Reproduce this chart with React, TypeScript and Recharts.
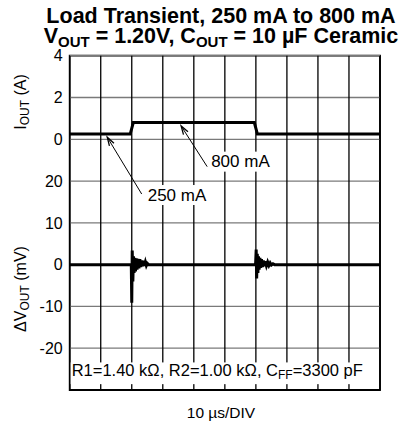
import React from 'react';
import {
  ComposedChart,
  Line,
  XAxis,
  YAxis,
  ReferenceLine,
  ReferenceArea,
} from 'recharts';

// ---- data ----
const timeTicks = [0, 10, 20, 30, 40, 50, 60, 70, 80, 90, 100]; // µs (10 µs/DIV)
const currentTicks = [0, 2, 4]; // A
const voltageTicks = [-20, -10, 0, 10, 20]; // mV
const currentDomain: [number, number] = [-12, 4];
const voltageDomain: [number, number] = [-30, 50];

const currentTime = [0, 19.5, 20.5, 59.5, 60.5, 100];
const currentAmps = [0.25, 0.25, 0.8, 0.8, 0.25, 0.25];

const voltageTime = [
  0, 19.85, 20.0, 20.15, 20.35, 20.55, 20.75, 20.95, 21.2, 21.45, 21.7, 22.0, 22.3, 22.6,
  22.9, 23.2, 23.5, 23.8, 24.1, 24.4, 24.7, 25.0, 25.4,
  59.9, 60.1, 60.25, 60.45, 60.65, 60.85, 61.05, 61.3, 61.55, 61.8, 62.1, 62.4, 62.7,
  63.0, 63.4, 63.8, 64.2, 64.6, 65.0, 65.5, 66.0, 100,
];
const voltageMv = [
  0, 0, -9.1, 3.4, -4.0, 2.0, -2.0, 1.6, -1.6, 1.5, -1.2, 1.4, -0.9, 1.3,
  -0.6, 1.0, -0.4, 0.9, -0.3, 0.6, -0.2, 0.3, 0,
  0, 3.6, -3.3, 2.6, -2.0, 2.0, -1.2, 1.6, -0.8, 1.3, -0.6, 1.0, -0.4,
  0.8, -0.3, 0.6, -0.2, 0.4, -0.1, 0.2, 0, 0,
];

const annotationLabels = ['250 mA', '800 mA'];
const annotationTails = [
  { x: 23.2, y: -2.62 },
  { x: 44.3, y: -1.31 },
];
const annotationTips = [
  { x: 12.1, y: 0.1 },
  { x: 35.9, y: 0.64 },
];

const resistorNote = ['R1=1.40 kΩ, R2=1.00 kΩ, C', 'FF', '=3300 pF'];
const noteBand = [
  { x: 0, y: -28.6 },
  { x: 100, y: -23.4 },
];

// ---- derived ----
const currentData = currentTime.map((t, i) => ({ t, a: currentAmps[i] }));
const voltageData = voltageTime.map((t, i) => ({ t, v: voltageMv[i] }));

const currentToVoltAxis = (a: number) =>
  voltageDomain[0] +
  ((a - currentDomain[0]) * (voltageDomain[1] - voltageDomain[0])) /
    (currentDomain[1] - currentDomain[0]);

const currentTickPositions = currentTicks.map(currentToVoltAxis);
const allTicks = [...voltageTicks, ...currentTickPositions].sort((a, b) => a - b);

const tickLabel = (v: number) => {
  const idx = currentTickPositions.indexOf(v);
  if (idx >= 0) return String(currentTicks[idx]);
  return String(v);
};

const FONT = '"Liberation Sans", Arial, Helvetica, sans-serif';

const labelOffsets = [
  { dx: 6, dy: 1 },
  { dx: 4, dy: -5 },
];

const makeArrowShape = (idx: number) => (props: any) => {
  const { x1, y1, x2, y2 } = props;
  const ang = Math.atan2(y2 - y1, x2 - x1);
  const len = 9;
  const spread = 0.3;
  const p1x = x2 - len * Math.cos(ang - spread);
  const p1y = y2 - len * Math.sin(ang - spread);
  const p2x = x2 - len * Math.cos(ang + spread);
  const p2y = y2 - len * Math.sin(ang + spread);
  const off = labelOffsets[idx];
  const tx = x1 + off.dx;
  const ty = y1 + off.dy;
  return (
    <g>
      <rect x={tx - 1} y={ty - 10} width={62} height={20} fill="#fff" />
      <line x1={x1} y1={y1} x2={x2} y2={y2} stroke="#000" strokeWidth={1} />
      <polyline
        points={`${p1x},${p1y} ${x2},${y2} ${p2x},${p2y}`}
        fill="none"
        stroke="#000"
        strokeWidth={1.3}
      />
      <text
        x={tx}
        y={ty}
        dominantBaseline="central"
        fontSize={17}
        fontFamily={FONT}
        fill="#000"
      >
        {annotationLabels[idx]}
      </text>
    </g>
  );
};

const NoteShape = (props: any) => {
  const { x1, y1, x2, y2 } = props;
  const x = Math.min(x1, x2);
  const y = Math.min(y1, y2);
  const width = Math.abs(x2 - x1);
  const height = Math.abs(y2 - y1);
  return (
    <g>
      <rect x={x + 1} y={y} width={width - 2} height={height} fill="#fff" stroke="none" />
      <text x={x + 2} y={y + 14} fontSize={16.5} fontFamily={FONT} fill="#000">
        {resistorNote[0]}
        <tspan fontSize={12} dy={3}>
          {resistorNote[1]}
        </tspan>
        <tspan dy={-3}>{resistorNote[2]}</tspan>
      </text>
    </g>
  );
};

export default function App() {
  return (
    <div style={{ position: 'absolute', left: 0, top: 0, width: 404, height: 423, background: '#fff' }}>
      <ComposedChart
        width={404}
        height={423}
        margin={{ top: 55.7, right: 24, bottom: 33, left: 69.7 }}
      >
        <XAxis
          dataKey="t"
          type="number"
          domain={[0, 100]}
          ticks={timeTicks}
          xAxisId="t"
          hide
        />
        <YAxis yAxisId="v" type="number" domain={voltageDomain} allowDataOverflow hide />
        <YAxis yAxisId="i" type="number" domain={currentDomain} allowDataOverflow hide />
        {allTicks.map((v) => (
          <ReferenceLine
            key={`h${v}`}
            xAxisId="t"
            yAxisId="v"
            y={v}
            stroke="#7a7a7a"
            strokeWidth={1.3}
            ifOverflow="visible"
            label={{
              value: tickLabel(v),
              position: 'left',
              offset: 7,
              fill: '#000',
              fontSize: 16,
              fontFamily: FONT,
            }}
          />
        ))}
        {timeTicks.map((t) => (
          <ReferenceLine
            key={`vl${t}`}
            xAxisId="t"
            yAxisId="v"
            x={t}
            stroke="#000"
            strokeWidth={1.3}
            ifOverflow="visible"
          />
        ))}
        <Line
          data={currentData}
          dataKey="a"
          xAxisId="t"
          yAxisId="i"
          type="linear"
          stroke="#000"
          strokeWidth={3}
          dot={false}
          isAnimationActive={false}
        />
        <Line
          data={voltageData}
          dataKey="v"
          xAxisId="t"
          yAxisId="v"
          type="linear"
          stroke="#000"
          strokeWidth={3}
          dot={false}
          isAnimationActive={false}
        />
        <ReferenceLine
          xAxisId="t"
          yAxisId="v"
          segment={noteBand}
          ifOverflow="visible"
          shape={NoteShape}
        />
        {annotationLabels.map((lab, i) => (
          <ReferenceLine
            key={lab}
            xAxisId="t"
            yAxisId="i"
            segment={[annotationTails[i], annotationTips[i]]}
            ifOverflow="visible"
            shape={makeArrowShape(i)}
          />
        ))}
        <ReferenceArea
          xAxisId="t"
          yAxisId="v"
          x1={0}
          x2={100}
          y1={voltageDomain[0]}
          y2={voltageDomain[1]}
          fill="none"
          fillOpacity={0}
          stroke="#000"
          strokeWidth={1.8}
          strokeOpacity={1}
          ifOverflow="visible"
        />
      </ComposedChart>
      <svg
        width={404}
        height={423}
        style={{ position: 'absolute', left: 0, top: 0, pointerEvents: 'none' }}
        fontFamily={FONT}
      >
        <text x={221} y={23} textAnchor="middle" fontSize={21.5} fontWeight="bold">
          Load Transient, 250 mA to 800 mA
        </text>
        <text x={221} y={42.5} textAnchor="middle" fontSize={21.5} fontWeight="bold">
          V<tspan fontSize={15} dy={4}>OUT</tspan>
          <tspan dy={-4}> = 1.20V, C</tspan>
          <tspan fontSize={15} dy={4}>OUT</tspan>
          <tspan dy={-4}> = 10 µF Ceramic</tspan>
        </text>
        <text transform="translate(26,102) rotate(-90)" textAnchor="middle" fontSize={16}>
          I<tspan fontSize={12} dy={3}>OUT</tspan>
          <tspan dy={-3}> (A)</tspan>
        </text>
        <text transform="translate(26,289) rotate(-90)" textAnchor="middle" fontSize={16}>
          ΔV<tspan fontSize={12} dy={3}>OUT</tspan>
          <tspan dy={-3}> (mV)</tspan>
        </text>
        <text x={221} y={418} textAnchor="middle" fontSize={15.5}>
          10 µs/DIV
        </text>
      </svg>
    </div>
  );
}
